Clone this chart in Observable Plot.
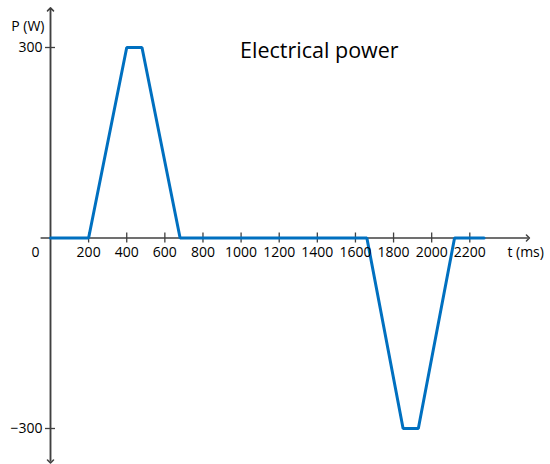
<!DOCTYPE html>
<html><head><meta charset="utf-8">
<script src="https://cdn.jsdelivr.net/npm/d3@7"></script>
<script src="https://cdn.jsdelivr.net/npm/@observablehq/plot@0.6"></script>
<style>body{margin:0;background:#fff}</style>
</head><body><div id="chart"></div>
<script>
const timeMs = [0, 200, 400, 480, 680, 1660, 1850, 1930, 2120, 2275];
const powerW = [0, 0, 300, 300, 0, 0, -300, -300, 0, 0];
const xTicks = [200, 400, 600, 800, 1000, 1200, 1400, 1600, 1800, 2000, 2200];
const yTicks = [300, -300];
const yTickLabels = ["300", "\u2212300"];
const xAxisExtent = [-52, 2505];
const yAxisExtent = [-352, 360];
const title = "Electrical power";
const xLabel = "t (ms)";
const yLabel = "P (W)";

const data = timeMs.map((t, i) => ({t, p: powerW[i]}));
const font = "'Open Sans', sans-serif";
const axisColor = "#404040";

const chart = Plot.plot({
  width: 550, height: 464,
  margin: 0,
  style: {fontFamily: font, background: "#fff"},
  x: {type: "linear", domain: [0, 2200], range: [50, 469.3], axis: null},
  y: {type: "linear", domain: [-300, 300], range: [428, 47], axis: null},
  marks: [
    Plot.link([{}], {x1: () => xAxisExtent[0], x2: () => xAxisExtent[1], y1: () => 0, y2: () => 0, stroke: axisColor, strokeWidth: 1.5, markerEnd: "arrow"}),
    Plot.link([{}], {x1: () => 0, x2: () => 0, y1: () => yAxisExtent[0], y2: () => yAxisExtent[1], stroke: axisColor, strokeWidth: 1.5, markerEnd: "arrow"}),
    Plot.link([{}], {x1: () => 0, x2: () => 0, y1: () => yAxisExtent[1], y2: () => yAxisExtent[0], stroke: axisColor, strokeWidth: 1.5, markerEnd: "arrow"}),
    Plot.ruleX(xTicks, {x: d => d, y1: () => 0, y2: () => 0, stroke: axisColor, strokeWidth: 1.3, insetTop: -5, insetBottom: -5}),
    Plot.ruleY(yTicks, {y: d => d, x1: () => 0, x2: () => 0, stroke: axisColor, strokeWidth: 1.3, insetLeft: -5, insetRight: -5}),
    Plot.line(data, {x: "t", y: "p", stroke: "#0070C0", strokeWidth: 3, strokeLinejoin: "miter"}),
    Plot.text(xTicks, {x: d => d, y: () => 0, text: d => String(d), dy: 15, fontSize: 14, fill: "#000"}),
    Plot.text([0], {x: d => d, y: () => 0, text: d => String(d), dx: -15, dy: 15, fontSize: 14, fill: "#000"}),
    Plot.text(yTicks, {x: () => 0, y: d => d, text: (d, i) => yTickLabels[i], dx: -8, textAnchor: "end", fontSize: 14, fill: "#000"}),
    Plot.text([yLabel], {x: () => 0, y: () => yAxisExtent[1], text: d => d, dx: -6, dy: 17, textAnchor: "end", fontSize: 14, fill: "#000"}),
    Plot.text([xLabel], {x: () => xAxisExtent[1], y: () => 0, text: d => d, dx: 16, dy: 15, textAnchor: "end", fontSize: 14, fill: "#000"}),
    Plot.text([title], {x: () => 1000, y: () => 300, text: d => d, dx: -1, dy: 4, textAnchor: "start", fontSize: 21.5, fill: "#000"})
  ]
});
document.getElementById("chart").append(chart);
</script></body></html>
